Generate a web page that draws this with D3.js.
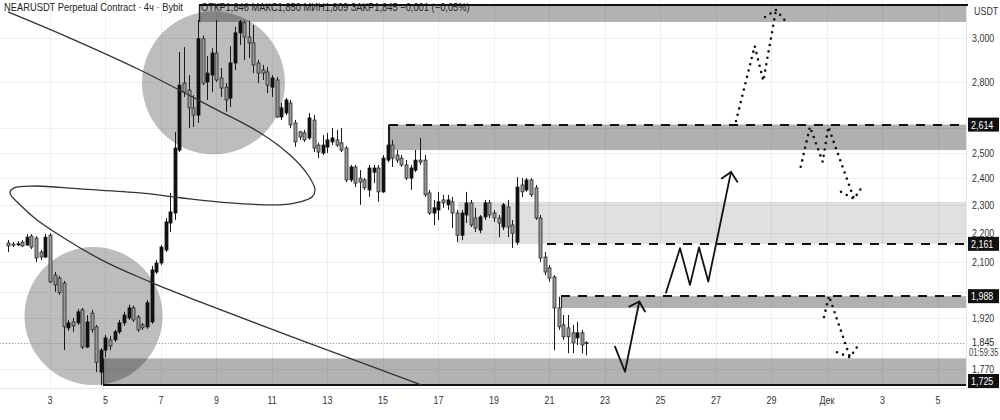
<!DOCTYPE html>
<html><head><meta charset="utf-8">
<script src="https://cdn.jsdelivr.net/npm/d3@7"></script>
<style>
html,body{margin:0;padding:0;background:#fff;}
svg{display:block;font-family:"Liberation Sans",Arial,sans-serif;}
</style></head><body>
<svg id="c" width="1000" height="420"></svg>
<script>
// ---------- DATA ----------
const firstBarDay = 1.5;          // Nov 1, 12:00 UTC (4h bars)
const barStepDays = 1 / 6;
const opens  = [2.164,2.160,2.158,2.167,2.157,2.188,2.181,2.133,2.116,2.191,2.056,2.046,2.030,1.890,1.908,1.905,1.945,1.833,1.935,1.893,1.761,1.824,1.854,1.854,1.878,1.905,1.920,1.951,1.923,1.899,1.893,1.908,2.066,2.096,2.140,2.234,2.270,2.510,2.793,2.762,2.685,2.654,2.998,2.798,2.829,2.930,2.816,2.775,2.727,2.884,3.026,3.075,3.006,2.978,2.884,2.852,2.843,2.775,2.807,2.646,2.663,2.706,2.621,2.584,2.580,2.559,2.633,2.530,2.498,2.522,2.543,2.551,2.539,2.518,2.393,2.443,2.400,2.393,2.355,2.423,2.439,2.348,2.470,2.530,2.490,2.478,2.451,2.400,2.431,2.470,2.470,2.344,2.270,2.281,2.318,2.300,2.311,2.270,2.191,2.263,2.307,2.252,2.209,2.256,2.307,2.270,2.252,2.220,2.292,2.227,2.167,2.374,2.355,2.393,2.363,2.252,2.116,2.080,2.050,1.951,1.899,1.890,1.875,1.860,1.875,1.846];
const highs  = [2.174,2.167,2.170,2.174,2.195,2.195,2.188,2.140,2.195,2.198,2.066,2.053,2.037,1.914,1.920,1.948,1.951,1.929,1.945,1.899,1.830,1.869,1.866,1.884,1.914,1.939,1.961,1.958,1.929,1.905,1.976,2.086,2.106,2.157,2.252,2.344,2.584,2.935,2.958,2.829,2.740,3.089,3.013,2.916,2.953,3.089,2.861,2.793,2.962,3.055,3.089,3.085,3.085,3.065,2.898,2.875,2.866,2.829,2.820,2.706,2.727,2.719,2.633,2.588,2.592,2.663,2.654,2.539,2.571,2.580,2.600,2.592,2.600,2.526,2.451,2.451,2.431,2.400,2.451,2.451,2.451,2.490,2.614,2.551,2.510,2.490,2.470,2.451,2.510,2.559,2.490,2.355,2.318,2.348,2.337,2.337,2.329,2.281,2.281,2.348,2.318,2.289,2.263,2.318,2.318,2.281,2.263,2.307,2.318,2.245,2.404,2.400,2.400,2.400,2.374,2.263,2.133,2.089,2.056,1.986,1.929,1.929,1.899,1.908,1.884,1.850];
const lows   = [2.133,2.150,2.154,2.150,2.154,2.143,2.099,2.106,2.113,2.030,2.002,1.992,1.824,1.881,1.878,1.899,1.827,1.830,1.875,1.761,1.725,1.803,1.824,1.848,1.872,1.896,1.914,1.908,1.878,1.884,1.887,1.902,2.060,2.089,2.133,2.202,2.245,2.502,2.732,2.600,2.604,2.621,2.784,2.719,2.753,2.798,2.732,2.668,2.689,2.852,2.968,2.898,2.907,2.838,2.793,2.807,2.749,2.732,2.642,2.633,2.654,2.600,2.523,2.551,2.543,2.551,2.502,2.478,2.490,2.498,2.530,2.522,2.502,2.385,2.385,2.366,2.300,2.355,2.329,2.381,2.311,2.344,2.462,2.443,2.459,2.443,2.393,2.355,2.423,2.451,2.329,2.263,2.227,2.245,2.289,2.281,2.216,2.167,2.174,2.234,2.220,2.202,2.198,2.245,2.252,2.238,2.184,2.209,2.184,2.147,2.157,2.329,2.348,2.329,2.245,2.099,2.056,2.034,1.824,1.884,1.854,1.815,1.815,1.839,1.815,1.809];
const closes = [2.154,2.157,2.161,2.154,2.184,2.150,2.113,2.116,2.184,2.034,2.024,1.999,1.893,1.905,1.896,1.939,1.833,1.908,1.884,1.789,1.824,1.860,1.836,1.878,1.905,1.929,1.951,1.914,1.884,1.890,1.967,2.073,2.096,2.150,2.238,2.274,2.518,2.784,2.753,2.685,2.654,2.998,2.793,2.838,2.930,2.807,2.771,2.719,2.884,3.026,3.080,3.006,2.978,2.875,2.838,2.838,2.784,2.816,2.646,2.685,2.719,2.613,2.543,2.563,2.551,2.642,2.518,2.502,2.530,2.551,2.559,2.530,2.510,2.393,2.443,2.381,2.385,2.363,2.439,2.439,2.348,2.478,2.530,2.478,2.470,2.451,2.400,2.439,2.470,2.462,2.337,2.270,2.289,2.311,2.307,2.318,2.270,2.191,2.270,2.307,2.227,2.216,2.256,2.307,2.263,2.252,2.234,2.300,2.220,2.198,2.366,2.348,2.393,2.337,2.252,2.113,2.066,2.046,1.951,1.893,1.863,1.863,1.845,1.875,1.839,1.845];

const xTickDays   = [3,5,7,9,11,13,15,17,19,21,23,25,27,29,31,33,35];
const xTickLabels = ["3","5","7","9","11","13","15","17","19","21","23","25","27","29","Дек","3","5"];
const yTickValues = [3.0,2.8,2.5,2.4,2.3,2.2,2.1,1.92,1.77];
const yGridValues = [3.0,2.8,2.6,2.5,2.4,2.3,2.2,2.1,2.0,1.92,1.845,1.77];

// zones: start day, low price, high price
const zoneFrom = [8.369, 15.216, 17.703, 21.414, 4.910];
const zoneLow  = [3.079, 2.510, 2.161, 1.951, 1.725];
const zoneHigh = [3.164, 2.614, 2.311, 1.988, 1.800];
// dashed levels
const dashedFrom  = [15.216, 20.910, 21.414];
const dashedPrice = [2.614, 2.161, 1.988];
// solid levels
const solidFrom  = [8.369, 4.910];
const solidPrice = [3.164, 1.725];
// tagged prices on the axis
const tagPrices = [2.614, 2.161, 1.988, 1.725];
const lastPrice = 1.845;
const countdown = "01:59:35";

// circles (day, price)
const circleDays   = [8.892, 4.568];
const circlePrices = [2.794, 1.926];

// freehand trend stroke (day, price)
const trendStroke = [[1.486,3.129],[3.721,3.001],[6.243,2.852],[8.874,2.685],[10.568,2.580],[11.649,2.490],[12.297,2.412],[12.550,2.355],[12.441,2.329],[12.009,2.311],[11.288,2.300],[9.486,2.307],[7.685,2.326],[6.243,2.344],[4.081,2.359],[2.459,2.370],[1.703,2.363],[1.559,2.344],[1.919,2.300],[2.532,2.245],[4.802,2.109],[6.604,2.034],[8.405,1.970],[12.009,1.854],[16.40,1.725]];

// solid arrows
const arrow1 = [[23.360,1.834],[23.721,1.762],[24.236,1.971]];
const arrow1Head = [[23.876,1.955],[24.441,1.940]];
const arrow2 = [[25.198,1.999],[25.703,2.146],[26.063,2.024],[26.387,2.149],[26.722,2.035],[27.541,2.424]];
const arrow2Head = [[27.205,2.399],[27.768,2.386]];
// dotted arrows
const dotted1 = [[27.721,2.629],[28.395,2.963],[28.705,2.803],[29.162,3.139]];
const dotted1Head = [[28.766,3.104],[29.559,3.074]];
const dotted2 = [[30.052,2.444],[30.387,2.605],[30.845,2.463],[31.047,2.605],[31.973,2.322]];
const dotted2Head = [[31.505,2.348],[32.261,2.366]];
const dotted3 = [[30.892,1.923],[31.072,1.989],[31.829,1.803]];
const dotted3Head = [[31.360,1.818],[32.081,1.833]];

const titleText = "NEARUSDT Perpetual Contract · 4ч · Bybit";
const ohlcText = "ОТКР1,846  МАКС1,850  МИН1,809  ЗАКР1,845  −0,001 (−0,05%)";

// ---------- DRAW ----------
const svg = d3.select("#c");
const PR = 966, PB = 388;
const dayToDate = d => new Date(Date.UTC(2025, 10, 1) + (d - 1) * 864e5);
const x = d3.scaleUtc().domain([dayToDate(1.1982), dayToDate(35.973)]).range([0, 965]);
const y = d3.scaleLog().domain([1.717, 3.189]).range([PB, 0]);
const fmt = v => v.toFixed(3).replace(".", ",");
const X = d => x(dayToDate(d));

svg.append("rect").attr("width",1000).attr("height",420).attr("fill","#fff");
svg.append("defs").append("clipPath").attr("id","clip").append("rect").attr("x",0).attr("y",0).attr("width",PR).attr("height",PB);

const plot = svg.append("g").attr("clip-path","url(#clip)");

// grid
plot.selectAll(".vg").data(xTickDays).join("line")
  .attr("x1",d=>Math.round(X(d))+0.5).attr("x2",d=>Math.round(X(d))+0.5)
  .attr("y1",0).attr("y2",PB).attr("stroke","#efefef");
plot.selectAll(".hg").data(yGridValues).join("line")
  .attr("x1",0).attr("x2",PR).attr("y1",d=>Math.round(y(d))+0.5).attr("y2",d=>Math.round(y(d))+0.5)
  .attr("stroke","#efefef");

// circles
const circleR = [71.5, 69];
plot.selectAll(".circ").data(circleDays).join("circle")
  .attr("cx",(d,i)=>X(d)).attr("cy",(d,i)=>y(circlePrices[i])).attr("r",(d,i)=>circleR[i])
  .attr("fill","#000").attr("fill-opacity",0.26);

// zones
const zoneOpacity = [0.3, 0.31, 0.12, 0.31, 0.3];
plot.selectAll(".zone").data(zoneFrom).join("rect")
  .attr("x",d=>X(d)).attr("width",d=>PR-X(d))
  .attr("y",(d,i)=>y(zoneHigh[i])).attr("height",(d,i)=>y(zoneLow[i])-y(zoneHigh[i]))
  .attr("fill","#000").attr("fill-opacity",(d,i)=>zoneOpacity[i]);
// left edges of dark zones
[0,1,3,4].forEach(i=>{
  plot.append("line").attr("x1",Math.round(X(zoneFrom[i]))+0.5).attr("x2",Math.round(X(zoneFrom[i]))+0.5)
    .attr("y1",y(zoneHigh[i])).attr("y2",y(zoneLow[i])).attr("stroke","#222").attr("stroke-width",1.2);
});

// last price line
plot.append("line").attr("x1",0).attr("x2",PR).attr("y1",Math.round(y(lastPrice))+0.5).attr("y2",Math.round(y(lastPrice))+0.5)
  .attr("stroke","#9a9a9a").attr("stroke-dasharray","1,2");

// candles
const idx = d3.range(opens.length);
const cx = i => Math.round(X(firstBarDay + i*barStepDays));
plot.selectAll(".wick").data(idx).join("line")
  .attr("x1",i=>cx(i)+0.5).attr("x2",i=>cx(i)+0.5)
  .attr("y1",i=>y(highs[i])).attr("y2",i=>y(lows[i]))
  .attr("stroke","#1a1a1a").attr("stroke-width",1);
plot.selectAll(".body").data(idx).join("rect")
  .attr("x",i=>cx(i)-1).attr("width",3)
  .attr("y",i=>y(Math.max(opens[i],closes[i])))
  .attr("height",i=>Math.max(1,Math.abs(y(opens[i])-y(closes[i]))))
  .attr("fill",i=>closes[i]>=opens[i] ? "#111" : "#9a9a9a")
  .attr("stroke",i=>closes[i]>=opens[i] ? "#111" : "#2a2a2a").attr("stroke-width",0.8);

// dashed levels
plot.selectAll(".dl").data(dashedFrom).join("line")
  .attr("x1",d=>X(d)).attr("x2",PR)
  .attr("y1",(d,i)=>Math.round(y(dashedPrice[i]))).attr("y2",(d,i)=>Math.round(y(dashedPrice[i])))
  .attr("stroke","#111").attr("stroke-width",2.2).attr("stroke-dasharray","9,8");
// solid levels
plot.selectAll(".sl").data(solidFrom).join("line")
  .attr("x1",d=>X(d)).attr("x2",PR+2)
  .attr("y1",(d,i)=>Math.round(y(solidPrice[i]))).attr("y2",(d,i)=>Math.round(y(solidPrice[i])))
  .attr("stroke","#111").attr("stroke-width",2);

// trend stroke
const lineGen = d3.line().x(d=>X(d[0])).y(d=>y(d[1])).curve(d3.curveCatmullRom.alpha(0.5));
plot.append("path").attr("d",lineGen(trendStroke)).attr("fill","none").attr("stroke","#333").attr("stroke-width",1.3);

// arrows
const straight = d3.line().x(d=>X(d[0])).y(d=>y(d[1]));
function arrow(pts, head, dotted){
  const tip = pts[pts.length-1];
  const g = plot.append("g").attr("fill","none").attr("stroke","#111")
    .attr("stroke-width", dotted?2.6:1.8).attr("stroke-linecap","round").attr("stroke-linejoin","round");
  if(dotted) g.attr("stroke-dasharray","0,6.5");
  g.append("path").attr("d",straight(pts));
  g.append("path").attr("d",straight([head[0],tip,head[1]]));
}
arrow(arrow1, arrow1Head, false);
arrow(arrow2, arrow2Head, false);
arrow(dotted1, dotted1Head, true);
arrow(dotted2, dotted2Head, true);
arrow(dotted3, dotted3Head, true);

// axes frame
svg.append("line").attr("x1",0).attr("x2",1000).attr("y1",PB+0.5).attr("y2",PB+0.5).attr("stroke","#e6e6e6");
svg.append("line").attr("x1",PR+0.5).attr("x2",PR+0.5).attr("y1",0).attr("y2",PB).attr("stroke","#e6e6e6");

const SX = 0.85;
function txt(xp, yp, s, opts={}){
  return svg.append("text").attr("transform",`translate(${xp},${yp}) scale(${opts.sx||SX},1)`)
    .attr("font-size",opts.size||11).attr("fill",opts.fill||"#222")
    .attr("text-anchor",opts.anchor||"start").text(s);
}

// x axis labels
xTickDays.forEach((d,i)=>txt(X(d), 404, xTickLabels[i], {anchor:"middle", size:10.5, fill:"#333"}));

// y axis labels
yTickValues.forEach(v=>txt(972, y(v)+4, fmt(v), {size:10.5, fill:"#333"}));
txt(974, 15, "USDT", {size:10.5, fill:"#333"});
txt(972, y(lastPrice)+3, fmt(lastPrice), {size:10.5, fill:"#222"});
txt(969, y(lastPrice)+13, countdown, {size:10.5, fill:"#444", sx:0.72});

// tags
tagPrices.forEach(v=>{
  const cy = Math.min(y(v), PB-7);
  svg.append("rect").attr("x",968).attr("y",cy-7).attr("width",31).attr("height",14).attr("fill","#111");
  txt(971, cy+4, fmt(v), {size:10.5, fill:"#fff"});
});

// title
txt(4, 11, titleText, {size:11, fill:"#222"});
txt(201, 11, ohlcText, {size:11, fill:"#222"});
// top zone border over the text
svg.append("line").attr("x1",X(solidFrom[0])).attr("x2",PR+2)
  .attr("y1",Math.round(y(solidPrice[0]))).attr("y2",Math.round(y(solidPrice[0])))
  .attr("stroke","#111").attr("stroke-width",2);
svg.append("line").attr("x1",Math.round(X(solidFrom[0]))+0.5).attr("x2",Math.round(X(solidFrom[0]))+0.5)
  .attr("y1",Math.round(y(solidPrice[0]))).attr("y2",y(zoneLow[0])).attr("stroke","#222").attr("stroke-width",1.2);
</script>
</body></html>
